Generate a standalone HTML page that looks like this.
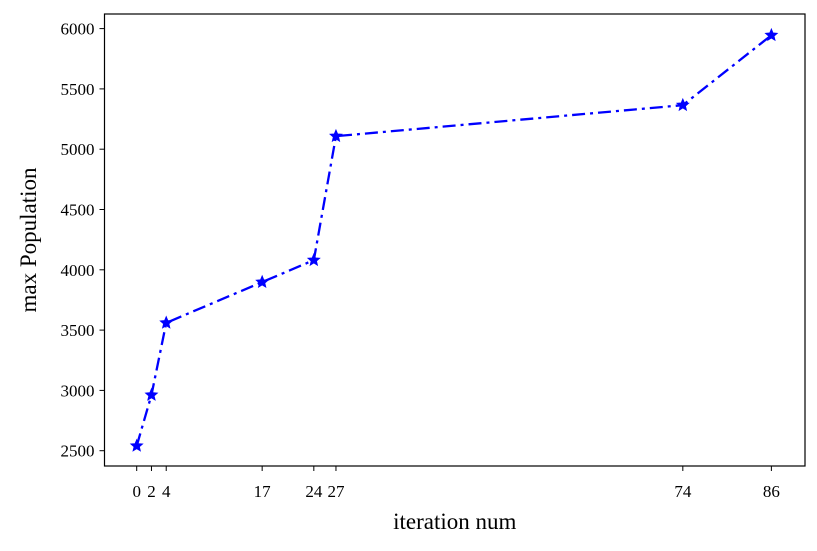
<!DOCTYPE html>
<html><head><meta charset="utf-8"><style>
body{margin:0;background:#fff;}
svg{display:block;font-family:"Liberation Serif",serif;}
</style></head><body>
<svg id="chart" width="817" height="551"></svg>
<script>
const iterations=[0,2,4,17,24,27,74,86];
const maxPopulation=[2540,2962,3560,3898,4080,5108,5365,5945];
const yTicks=[2500,3000,3500,4000,4500,5000,5500,6000];
const L=104.5,R=805,T=14,B=466;
const x=v=>136.7+v*7.38;
const y=v=>450.7-(v-2500)*0.1206;
const NS="http://www.w3.org/2000/svg";
const svg=document.getElementById('chart');
function mk(t,a,p){const e=document.createElementNS(NS,t);for(const k in a)e.setAttribute(k,a[k]);(p||svg).appendChild(e);return e;}
const frame=mk('rect',{x:L,y:T,width:R-L,height:B-T,fill:'none',stroke:'#000','stroke-width':1.2});


iterations.forEach(v=>{
  const t=mk('line',{x1:x(v),x2:x(v),y1:B,y2:B+5,stroke:'#000','stroke-width':1});
  
  
  const l=mk('text',{x:x(v),y:B+31,'text-anchor':'middle','font-size':17});
  l.textContent=v;
  
  
});
yTicks.forEach(v=>{
  const t=mk('line',{x1:L-5,x2:L,y1:y(v),y2:y(v),stroke:'#000','stroke-width':1});
  
  
  const l=mk('text',{x:L-10,y:y(v)+6,'text-anchor':'end','font-size':17});
  l.textContent=v;
  
  
});
const pts=iterations.map((v,i)=>x(v)+','+y(maxPopulation[i])).join(' ');
const line=mk('polyline',{points:pts,fill:'none',stroke:'#0000ff','stroke-width':2.3,'stroke-dasharray':'13 5 3 5'});


function star(cx,cy,r){let p=[];for(let i=0;i<10;i++){const a=-Math.PI/2+i*Math.PI/5;const rr=i%2?r*0.45:r;p.push((cx+rr*Math.cos(a)).toFixed(2)+','+(cy+rr*Math.sin(a)).toFixed(2));}return p.join(' ');}
iterations.forEach((v,i)=>{
  const m=mk('polygon',{points:star(x(v),y(maxPopulation[i]),6),fill:'#0000ff',stroke:'#0000ff','stroke-width':1});
  
  
});
const xt=mk('text',{x:(L+R)/2,y:529,'text-anchor':'middle','font-size':23});
xt.textContent='iteration num';


const yt=mk('text',{x:0,y:0,'text-anchor':'middle','font-size':23,transform:'translate(36,240) rotate(-90)'});
yt.textContent='max Population';


</script>
</body></html>
